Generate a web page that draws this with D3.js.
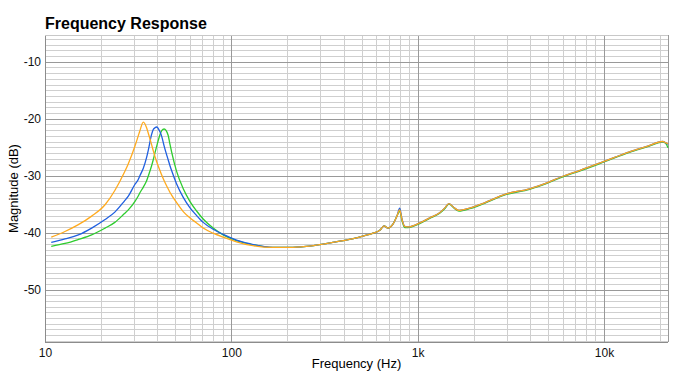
<!DOCTYPE html>
<html>
<head>
<meta charset="utf-8">
<script src="https://cdn.jsdelivr.net/npm/d3@7"></script>
<style>
  html, body { margin: 0; padding: 0; background: #fff; }
  svg { display: block; font-family: "Liberation Sans", Arial, Helvetica, sans-serif; }
</style>
</head>
<body>
<svg id="chart" width="700" height="381"></svg>
<script>
// ---- data ----
const freqs = [10.8, 12.8, 15.1, 17.8, 21, 23.7, 26.6, 28, 30.4, 31.6, 32.3, 33.7, 35.1, 35.8, 37.3, 38.1, 38.9, 39.7, 41.4, 42.3, 43.6, 45.8, 46.8, 47.8, 50.8, 55.2, 59.9, 65.1, 70.6, 79.9, 90.4, 106.6, 125.7, 167, 206, 253, 311, 382, 469, 576, 626, 660, 693, 737, 774, 801, 824, 852, 887, 1025, 1160, 1312, 1396, 1472, 1579, 1665, 1900, 2150, 2990, 3986, 4898, 6013, 7390, 10000, 13700, 16840, 20670, 21400, 22050];

const tailCommon = [-42.6, -42.6, -42.4, -42.0, -41.5, -40.9, -40.1, -39.6, -38.8, -39.2, -38.5, -37.1];

const orangeDb = [-40.8, -39.8, -38.6, -37.1, -35.1, -32.6, -29.5, -27.9, -24.8, -23.1, -22.1, -20.6, -21.6, -22.5, -24.5, -25.6, -26.6, -27.5, -29.1, -29.9, -30.9, -32.3, -32.9, -33.4, -34.7, -36.3, -37.4, -38.3, -39.2, -40.1, -40.8, -41.6, -42.2,
  ...tailCommon, -36.0, -37.7, -38.9, -39.0, -38.3, -37.4, -36.5, -35.7, -34.9, -35.7, -36.1, -35.7, -35.1, -33.2, -32.3, -31.3, -30.1, -29.1, -27.5, -25.8, -24.9, -24.0, -24.2, -24.4];

const blueDb = [-41.7, -41.1, -40.4, -39.2, -37.7, -36.4, -34.5, -33.6, -31.5, -30.7, -30.0, -28.7, -26.8, -25.6, -22.8, -21.9, -21.6, -21.45, -22.3, -23.1, -24.8, -27.2, -28.2, -29.1, -31.4, -33.8, -35.6, -37.0, -38.2, -39.4, -40.3, -41.3, -41.95,
  ...tailCommon, -35.7, -37.6, -38.9, -39.0, -38.3, -37.4, -36.5, -35.7, -34.9, -35.7, -36.1, -35.7, -35.1, -33.2, -32.3, -31.3, -30.1, -29.1, -27.5, -25.8, -24.9, -24.0, -24.2, -24.5];

const greenDb = [-42.4, -41.9, -41.2, -40.4, -39.2, -38.2, -36.7, -36.0, -34.5, -33.6, -33.0, -32.0, -30.9, -30.1, -28.3, -27.2, -26.0, -24.9, -22.8, -22.1, -21.8, -22.9, -24.4, -25.8, -29.2, -32.3, -34.5, -36.2, -37.6, -39.2, -40.4, -41.4, -42.0,
  ...tailCommon, -36.2, -37.9, -39.1, -39.1, -38.4, -37.5, -36.6, -35.8, -35.0, -35.8, -36.2, -35.8, -35.2, -33.3, -32.4, -31.4, -30.2, -29.2, -27.6, -25.9, -25.0, -24.1, -24.3, -25.1];

const seriesNames = ["green", "blue", "orange"];
const seriesColors = ["#2ecc2e", "#1f5fe0", "#ffaa1e"];
const seriesValues = [greenDb, blueDb, orangeDb];

const xTickValues = [10, 100, 1000, 10000];
const xTickLabels = ["10", "100", "1k", "10k"];
const yTickValues = [-50, -40, -30, -20, -10];
const yTickLabels = ["-50", "-40", "-30", "-20", "-10"];

// ---- layout ----
const svg = d3.select("#chart");
const L = 45, R = 668, T = 35, B = 342;

const x = d3.scaleLog().domain([10, 22050]).range([L, R]);
const y = d3.scaleLinear().domain([-59.2, -5.3]).range([B, T]);

const snap = v => Math.round(v) + 0.5;

// minor vertical grid
const minorX = [];
for (let d = 10; d < 22050; d *= 10) {
  for (let m = 2; m <= 9; m++) { const v = d * m; if (v < 22050) minorX.push(v); }
}
svg.append("g").selectAll("line").data(minorX).join("line")
  .attr("x1", d => snap(x(d))).attr("x2", d => snap(x(d)))
  .attr("y1", T).attr("y2", B)
  .attr("stroke", "#cfcfcf").attr("stroke-width", 1);

// minor horizontal grid
const minorY = d3.range(-59, -5).filter(v => v % 10 !== 0);
svg.append("g").selectAll("line").data(minorY).join("line")
  .attr("x1", L).attr("x2", R)
  .attr("y1", d => snap(y(d))).attr("y2", d => snap(y(d)))
  .attr("stroke", "#cfcfcf").attr("stroke-width", 1);

// major grid
svg.append("g").selectAll("line").data(xTickValues.slice(1)).join("line")
  .attr("x1", d => snap(x(d))).attr("x2", d => snap(x(d)))
  .attr("y1", T).attr("y2", B)
  .attr("stroke", "#999").attr("stroke-width", 1);
svg.append("g").selectAll("line").data(yTickValues).join("line")
  .attr("x1", L).attr("x2", R)
  .attr("y1", d => snap(y(d))).attr("y2", d => snap(y(d)))
  .attr("stroke", "#999").attr("stroke-width", 1);

// frame
svg.append("line").attr("x1", snap(L)).attr("x2", snap(L)).attr("y1", T).attr("y2", B + 0.5).attr("stroke", "#8c8c8c");
svg.append("line").attr("x1", L).attr("x2", R).attr("y1", snap(B)).attr("y2", snap(B)).attr("stroke", "#8c8c8c");
svg.append("line").attr("x1", snap(R)).attr("x2", snap(R)).attr("y1", T).attr("y2", B).attr("stroke", "#999");
svg.append("line").attr("x1", L).attr("x2", R).attr("y1", snap(T)).attr("y2", snap(T)).attr("stroke", "#c8c8c8");

// axes labels via d3 axes (no domain / tick lines)
const xAxis = d3.axisBottom(x).tickValues(xTickValues).tickFormat((d, i) => xTickLabels[i]).tickSize(0).tickPadding(6);
const gx = svg.append("g").attr("transform", `translate(0,${B})`).call(xAxis);
gx.select(".domain").remove();
gx.selectAll("text").attr("font-size", 12).attr("fill", "#111").attr("font-family", "Liberation Sans, Arial, sans-serif");

const yAxis = d3.axisLeft(y).tickValues(yTickValues).tickFormat((d, i) => yTickLabels[i]).tickSize(0).tickPadding(4);
const gy = svg.append("g").attr("transform", `translate(${L},0)`).call(yAxis);
gy.select(".domain").remove();
gy.selectAll("text").attr("font-size", 12).attr("fill", "#111").attr("font-family", "Liberation Sans, Arial, sans-serif");

// lines
const line = d3.line()
  .x((d, i) => x(freqs[i]))
  .y(d => y(d))
  .curve(d3.curveMonotoneX);

svg.append("g").selectAll("path").data(seriesValues).join("path")
  .attr("d", d => line(d))
  .attr("fill", "none")
  .attr("stroke", (d, i) => seriesColors[i])
  .attr("stroke-width", 1.3)
  .attr("stroke-linejoin", "round");

// titles
svg.append("text").attr("x", L).attr("y", 29)
  .attr("font-size", 16).attr("font-weight", "bold").attr("fill", "#000")
  .text("Frequency Response");

svg.append("text").attr("x", (L + R) / 2).attr("y", 368)
  .attr("text-anchor", "middle").attr("font-size", 13).attr("fill", "#000")
  .text("Frequency (Hz)");

svg.append("text")
  .attr("transform", `translate(18,${(T + B) / 2}) rotate(-90)`)
  .attr("text-anchor", "middle").attr("font-size", 13).attr("fill", "#000")
  .text("Magnitude (dB)");
</script>
</body>
</html>
